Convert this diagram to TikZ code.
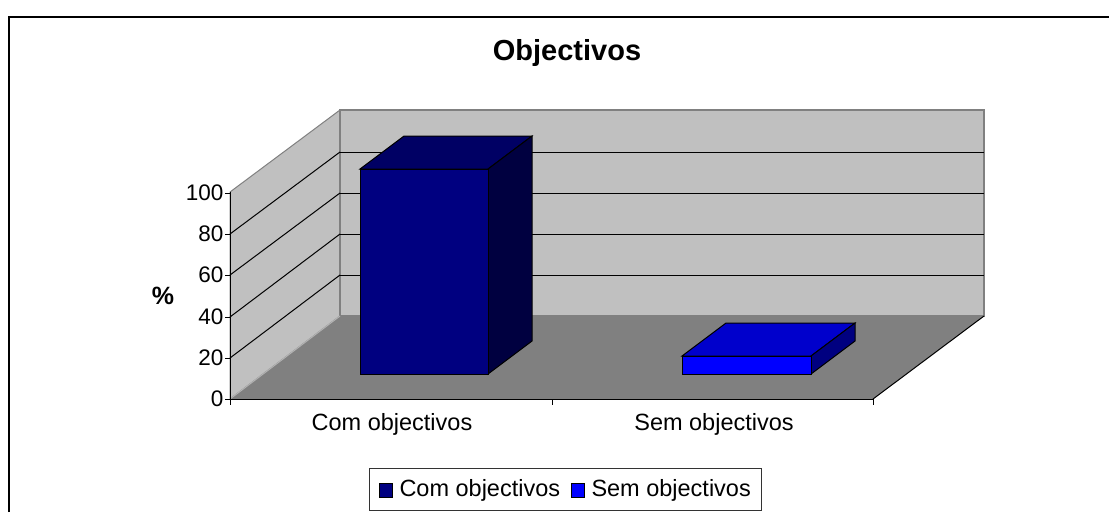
\documentclass[tikz,border=0pt]{standalone}
\usepackage{fontspec}
\setmainfont{Liberation Sans}
\usetikzlibrary{calc}
\definecolor{wallgray}{RGB}{192,192,192}
\definecolor{floorgray}{RGB}{128,128,128}
\definecolor{comfront}{RGB}{0,0,128}
\definecolor{comtop}{RGB}{0,0,100}
\definecolor{comside}{RGB}{0,0,64}
\definecolor{semfront}{RGB}{0,0,255}
\definecolor{semtop}{RGB}{0,0,204}
\definecolor{semside}{RGB}{0,0,128}
\def\barbox[#1/#2/#3](#4:#5:#6:#7){%
  \draw[fill=#2] (#4,#6) -- (#4+44,#6-33) -- (#5+44,#6-33) -- (#5,#6) -- cycle;
  \draw[fill=#3] (#5,#6) -- (#5+44,#6-33) -- (#5+44,#7-33) -- (#5,#7) -- cycle;
  \draw[fill=#1] (#4,#6) rectangle (#5,#7);}
\tikzset{
  ticklabel/.style={anchor=east, inner sep=0pt, font=\fontsize{22.5}{26}\selectfont},
  catlabel/.style={inner sep=0pt, font=\fontsize{23.5}{27}\selectfont},
  leglabel/.style={anchor=west, inner sep=0pt, font=\fontsize{23.5}{27}\selectfont}
}
\begin{document}
\begin{tikzpicture}[x=1pt, y=-1pt, line width=1pt]
		%%%%% START %%%%%
		\useasboundingbox (0, 0) rectangle (1109, 512);
		\draw[line width=2pt] (9, 512) -- (9, 17) -- (1109, 17);
		
		\node[font=\bfseries\fontsize{29}{33}\selectfont, inner sep=0pt] (title) at (567, 53) {Objectivos};
		
		% walls and floor
		\draw[fill=wallgray, draw=floorgray] (230, 192) -- (340, 110) -- (340, 316) -- (230, 399) -- cycle;
		\draw[fill=wallgray, draw=floorgray, line width=1.5pt] (340, 110) rectangle (984, 316);
		\fill[floorgray] (230, 399) -- (340, 316) -- (984, 316) -- (873, 399) -- cycle;
		\draw[floorgray!60] (230, 399) -- (340, 316);
		\draw (873, 399) -- (984, 316);
		
		% gridlines
		\draw (340, 152) -- (984, 152);
		\draw (340, 193) -- (984, 193);
		\draw (340, 234) -- (984, 234);
		\draw (340, 275) -- (984, 275);
		\draw (230, 234) -- (340, 152);
		\draw (230, 275) -- (340, 193);
		\draw (230, 317) -- (340, 234);
		\draw (230, 358) -- (340, 275);
		
		% axes
		\draw (230, 192) -- (230, 399) -- (873, 399);
		\draw (225, 193) -- (230, 193);
		\draw (225, 234) -- (230, 234);
		\draw (225, 275) -- (230, 275);
		\draw (225, 317) -- (230, 317);
		\draw (225, 358) -- (230, 358);
		\draw (225, 399) -- (230, 399);
		\draw (230, 399) -- (230, 405);
		\draw (552, 399) -- (552, 405);
		\draw (873, 399) -- (873, 405);
		
		\node[ticklabel] (t100) at (224, 193) {100};
		\node[ticklabel] (t80) at (224, 234) {80};
		\node[ticklabel] (t60) at (224, 275) {60};
		\node[ticklabel] (t40) at (224, 317) {40};
		\node[ticklabel] (t20) at (224, 358) {20};
		\node[ticklabel] (t0) at (224, 399) {0};
		\node[font=\bfseries\fontsize{25}{29}\selectfont, inner sep=0pt] (pct) at (163, 296) {\%};
		
		% bars
		\barbox[comfront/comtop/comside](360:488:169:374)
		\barbox[semfront/semtop/semside](682:811:356:374)
		
		\node[catlabel] (catcom) at (392, 424) {Com objectivos};
		\node[catlabel] (catsem) at (714, 424) {Sem objectivos};
		
		% legend
		\draw[draw=black!80] (369, 468) rectangle (761, 510);
		\draw[fill=comfront] (379, 483) rectangle (392, 497);
		\node[leglabel] (legcom) at (399, 490) {Com objectivos};
		\draw[fill=semfront] (571, 483) rectangle (584, 497);
		\node[leglabel] (legsem) at (591, 490) {Sem objectivos};
		%%%%% END %%%%%
	\end{tikzpicture}
\end{document}
